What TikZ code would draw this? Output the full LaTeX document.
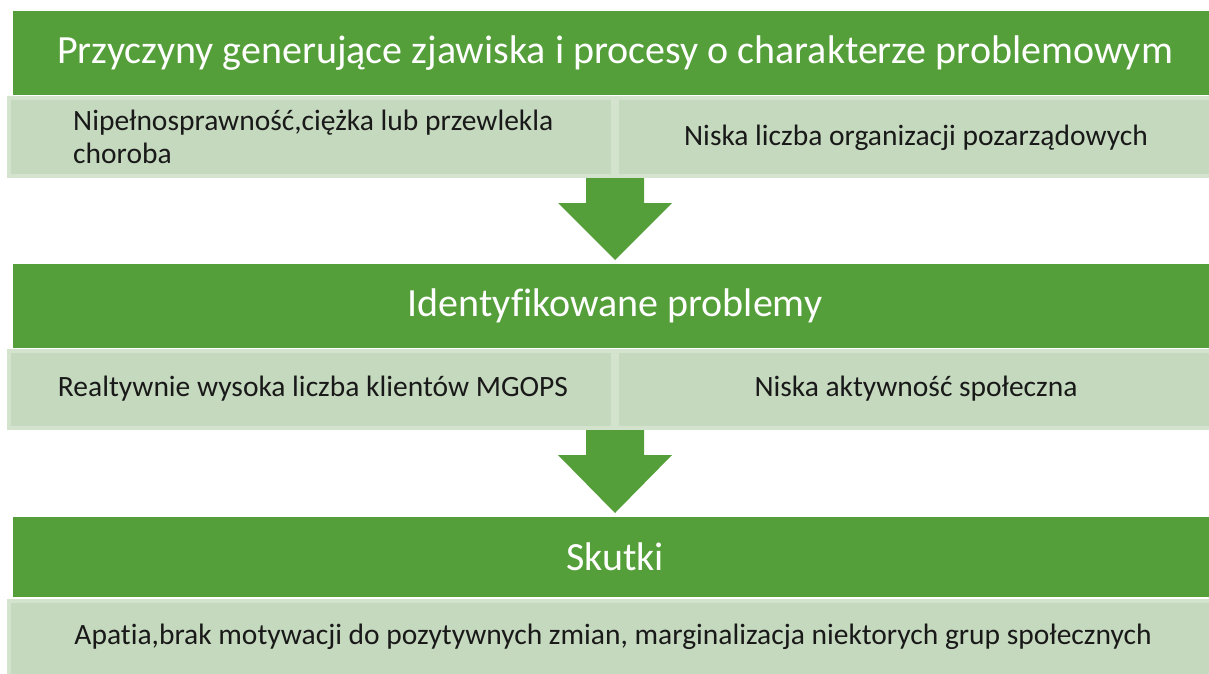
\documentclass[tikz,border=0pt]{standalone}
\usepackage{fontspec}
\setmainfont[Ligatures=NoCommon]{Carlito}
\definecolor{hgreen}{HTML}{559F3B}
\definecolor{lgreen}{HTML}{C5D9BE}
\definecolor{lborder}{HTML}{D3E3CD}
\begin{document}
\begin{tikzpicture}[x=1pt,y=-1pt,
  head/.style={fill=hgreen,draw=none},
  cell/.style={fill=lgreen,draw=lborder,line width=4pt},
  htext/.style={text=white,font=\fontsize{40}{46}\selectfont,inner sep=0pt},
  ctext/.style={text=black!90,font=\fontsize{29.5}{33}\selectfont,inner sep=0pt},
  downarrow/.style={fill=hgreen,draw=none}]
\useasboundingbox (0,0) rectangle (1209,673);
% level 1
\path[head] (13,11) rectangle (1212,95);
\node[htext] (h1) at (615,53) {Przyczyny generujące zjawiska i procesy o charakterze problemowym};
\path[cell] (9,98) rectangle (613,176);
\path[cell] (617,98) rectangle (1214,176);
\node[ctext,align=left,anchor=west] (c11) at (73,137) {Nipełnosprawność,ciężka lub przewlekla\\choroba};
\node[ctext] (c12) at (916,138) {Niska liczba organizacji pozarządowych};
% arrow 1
\path[downarrow] (586,178) -- (644,178) -- (644,203) -- (672,203) -- (615,260) -- (558,203) -- (586,203) -- cycle;
% level 2
\path[head] (13,264) rectangle (1212,348);
\node[htext] (h2) at (615,306) {Identyfikowane problemy};
\path[cell] (9,351) rectangle (613,428);
\path[cell] (617,351) rectangle (1214,428);
\node[ctext] (c21) at (313,389) {Realtywnie wysoka liczba klientów MGOPS};
\node[ctext] (c22) at (916,389) {Niska aktywność społeczna};
% arrow 2
\path[downarrow] (586,430) -- (644,430) -- (644,455) -- (672,455) -- (615,513) -- (558,455) -- (586,455) -- cycle;
% level 3
\path[head] (13,517) rectangle (1212,597);
\node[htext] (h3) at (615,557) {Skutki};
\path[cell] (9,601) rectangle (1214,680);
\node[ctext] (c31) at (613,637) {Apatia,brak motywacji do pozytywnych zmian, marginalizacja niektorych grup społecznych};
\end{tikzpicture}
\end{document}
